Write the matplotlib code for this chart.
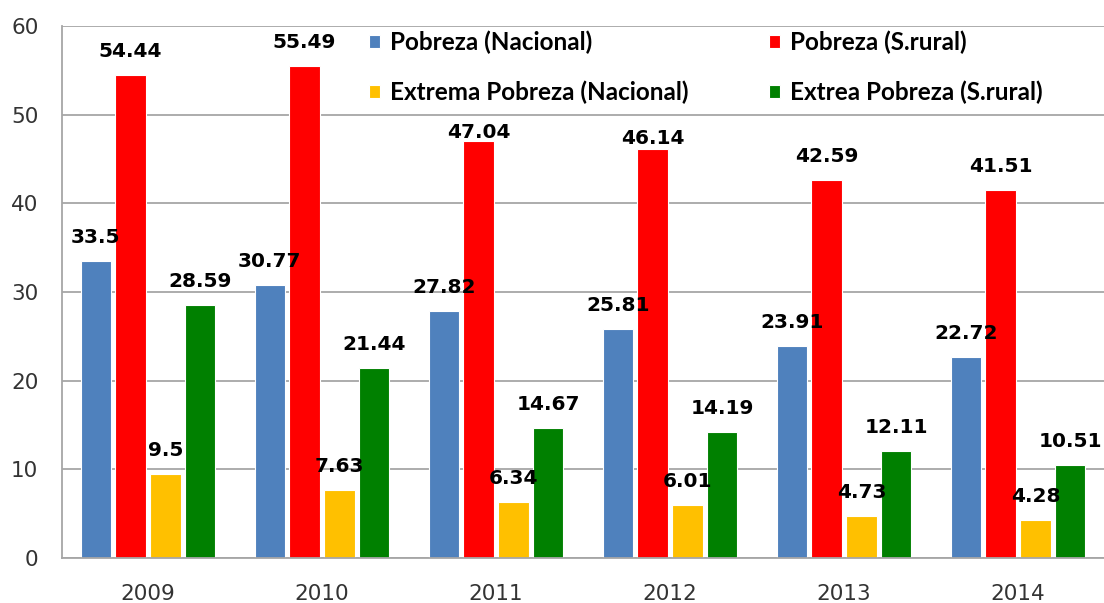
import numpy as np
import matplotlib
matplotlib.use('Agg')
import matplotlib.pyplot as plt

years = ['2009', '2010', '2011', '2012', '2013', '2014']
pobreza_nacional = [33.5, 30.77, 27.82, 25.81, 23.91, 22.72]
pobreza_rural = [54.44, 55.49, 47.04, 46.14, 42.59, 41.51]
extrema_nacional = [9.5, 7.63, 6.34, 6.01, 4.73, 4.28]
extrema_rural = [28.59, 21.44, 14.67, 14.19, 12.11, 10.51]

series = [
    ('Pobreza (Nacional)', pobreza_nacional, '#4F81BD'),
    ('Pobreza (S.rural)', pobreza_rural, '#FF0000'),
    ('Extrema Pobreza (Nacional)', extrema_nacional, '#FFC000'),
    ('Extrea Pobreza (S.rural)', extrema_rural, '#008000'),
]

# labels that sit closer to their bar (squeezed under the legend)
tight_labels = {(1, 2): -0.5, (1, 3): 0.9}

fig = plt.figure(figsize=(11.04, 6.03), dpi=100)
ax = fig.add_axes([0.0562, 0.0746, 0.9438, 0.8823])

x = np.arange(len(years))
pitch = 0.2
width = 0.175
handles = []
for i, (name, vals, col) in enumerate(series):
    pos = x + (i - 1.5) * pitch
    b = ax.bar(pos, vals, width, color=col, edgecolor='white', linewidth=0.8,
               label=name, zorder=2)
    handles.append(b)
    for j, (px, v) in enumerate(zip(pos, vals)):
        off = tight_labels.get((i, j), 10)
        ax.annotate(f'{v:g}', (px, v), xytext=(0, off), textcoords='offset points',
                    ha='center', va='bottom', fontsize=14.5, fontweight='bold',
                    family='DejaVu Sans', color='black', zorder=3)

ax.set_xlim(-0.494, 5.494)
ax.set_ylim(0, 60)
ax.set_yticks(range(0, 61, 10))
ax.set_xticks(x)
ax.set_xticklabels(years)
ax.yaxis.grid(True, color='#A6A6A6', linewidth=1.3, zorder=0)
ax.set_axisbelow(True)
for s in ['top', 'right']:
    ax.spines[s].set_visible(False)
for s in ['left', 'bottom']:
    ax.spines[s].set_color('#A6A6A6')
    ax.spines[s].set_linewidth(1.3)
ax.tick_params(axis='both', length=0, labelsize=15.5, labelcolor='#333333')
ax.tick_params(axis='x', pad=19)
ax.tick_params(axis='y', pad=17)

# matplotlib fills legend columns first, so reorder for row-wise layout
order = [0, 2, 1, 3]
leg = fig.legend(handles=[handles[k] for k in order], loc='upper left',
                 bbox_to_anchor=(0.323, 0.969), ncol=2, frameon=False,
                 borderpad=0, columnspacing=3.3, handlelength=0.47,
                 handleheight=0.47, handletextpad=0.4, labelspacing=1.08,
                 prop={'family': 'Lato', 'weight': 'bold', 'size': 17.5})

fig.savefig('out.png', dpi=100)
